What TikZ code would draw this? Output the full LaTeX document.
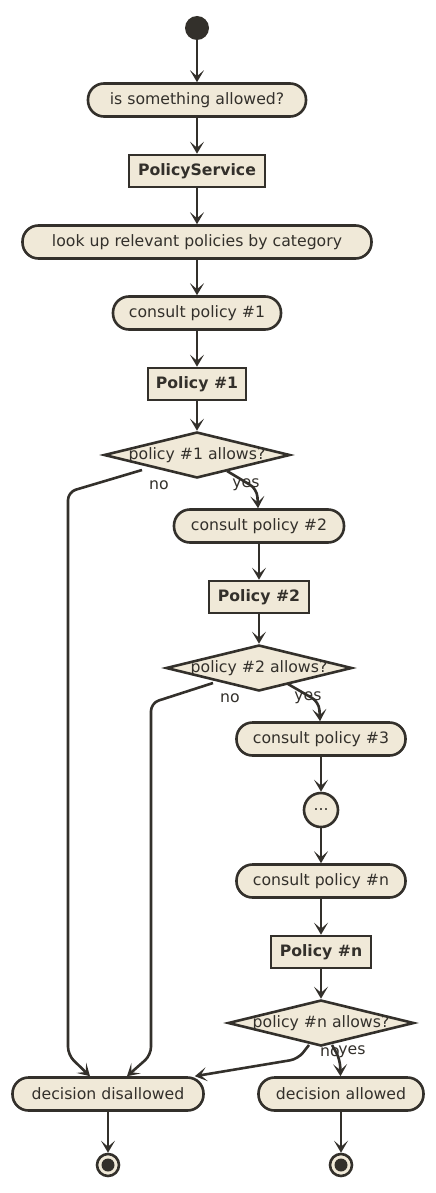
\documentclass[tikz,border=0pt]{standalone}
\usepackage{fontspec}
\setmainfont{DejaVu Sans}
\usepackage{tikz}
\usetikzlibrary{shapes.geometric,arrows.meta}
\definecolor{ink}{RGB}{51,48,43}
\definecolor{sand}{RGB}{240,233,216}

\begin{document}
\begin{tikzpicture}[x=1pt,y=-1pt,
    every node/.style={font=\fontsize{15.7}{18}\selectfont,text=ink},
    act/.style={draw=ink,fill=sand,line width=2.6pt,rounded corners=16pt,
      minimum height=33pt,inner sep=0pt},
    part/.style={draw=ink,fill=sand,line width=2.6pt,minimum height=32pt,
      inner sep=0pt,font=\fontsize{15.7}{18}\selectfont\bfseries},
    test/.style={diamond,draw=ink,fill=sand,line width=2.6pt,
      minimum width=186pt,minimum height=46pt,inner sep=0pt},
    stop/.style={circle,draw=ink,fill=sand,line width=2.6pt,minimum size=22pt,
      inner sep=0pt,path picture={\fill[ink] (path picture bounding box.center) circle (6.5pt);}},
    lbl/.style={inner sep=0pt},
    flow/.style={draw=ink,line width=2.6pt,rounded corners=8pt,
      -{Stealth[length=12pt,width=14pt,inset=6pt]}},
  ]
    \useasboundingbox (0,0) rectangle (436,1193);

    \node[circle,fill=ink,minimum size=24pt,inner sep=0pt] (start) at (197,28) {};
    \node[act,minimum width=218pt] (ask) at (197,100) {is something allowed?};
    \node[part,minimum width=136pt] (svc) at (197,171) {PolicyService};
    \node[act,minimum width=349pt] (lookup) at (197,242) {look up relevant policies by category};
    \node[act,minimum width=168pt] (ask1) at (197,313) {consult policy \#1};
    \node[part,minimum width=98pt] (pol1) at (197,384) {Policy \#1};
    \node[test] (d1) at (197,455) {\makebox[0pt]{policy \#1 allows?}};

    \node[act,minimum width=170pt] (ask2) at (259,526) {consult policy \#2};
    \node[part,minimum width=100pt] (pol2) at (259,597) {Policy \#2};
    \node[test] (d2) at (259,668) {\makebox[0pt]{policy \#2 allows?}};

    \node[act,minimum width=169pt] (ask3) at (321,739) {consult policy \#3};
    \node[circle,draw=ink,fill=sand,line width=2.6pt,minimum size=34pt,
      inner sep=0pt] (more) at (321,810) {...};
    \node[act,minimum width=169pt] (askn) at (321,881) {consult policy \#n};
    \node[part,minimum width=100pt] (poln) at (321,952) {Policy \#n};
    \node[test] (dn) at (321,1023) {\makebox[0pt]{policy \#n allows?}};

    \node[act,minimum width=191pt] (deny) at (108,1094) {decision disallowed};
    \node[act,minimum width=165pt] (grant) at (341,1094) {decision allowed};
    \node[stop] (stop1) at (108,1165) {};
    \node[stop] (stop2) at (341,1165) {};

    % branch labels
    \node[lbl] (no1) at (159,485) {no};
    \node[lbl] (yes1) at (246,485) {yes};
    \node[lbl] (no2) at (230,698) {no};
    \node[lbl] (yes2) at (308,698) {yes};
    \node[lbl] (non) at (330,1052) {no};
    \node[lbl] (yesn) at (352,1052) {yes};

    \draw[flow] (start) -- (ask);
    \draw[flow] (ask) -- (svc);
    \draw[flow] (svc) -- (lookup);
    \draw[flow] (lookup) -- (ask1);
    \draw[flow] (ask1) -- (pol1);
    \draw[flow] (pol1) -- (d1);
    \draw[flow] ([shift={(-55,15)}]d1.center) -- (68,492) -- (68,1055)
      -- ([xshift=-18pt]deny.north);
    \draw[flow] ([shift={(30,16)}]d1.center) -- (257,489) -- (ask2);

    \draw[flow] (ask2) -- (pol2);
    \draw[flow] (pol2) -- (d2);
    \draw[flow] ([shift={(-46,15)}]d2.center) -- (151,703) -- (151,1055)
      -- ([xshift=19pt]deny.north);
    \draw[flow] ([shift={(29,16)}]d2.center) -- (319,702) -- (ask3);

    \draw[flow] (ask3) -- (more);
    \draw[flow] (more) -- (askn);
    \draw[flow] (askn) -- (poln);
    \draw[flow] (poln) -- (dn);
    \draw[flow] ([shift={(-12,22)}]dn.center) -- (298,1059)
      -- ([xshift=-10pt]deny.north east);
    \draw[flow] ([shift={(11,22)}]dn.center) -- (340,1059) -- (grant);

    \draw[flow] (deny) -- (stop1);
    \draw[flow] (grant) -- (stop2);
  \end{tikzpicture}
\end{document}
